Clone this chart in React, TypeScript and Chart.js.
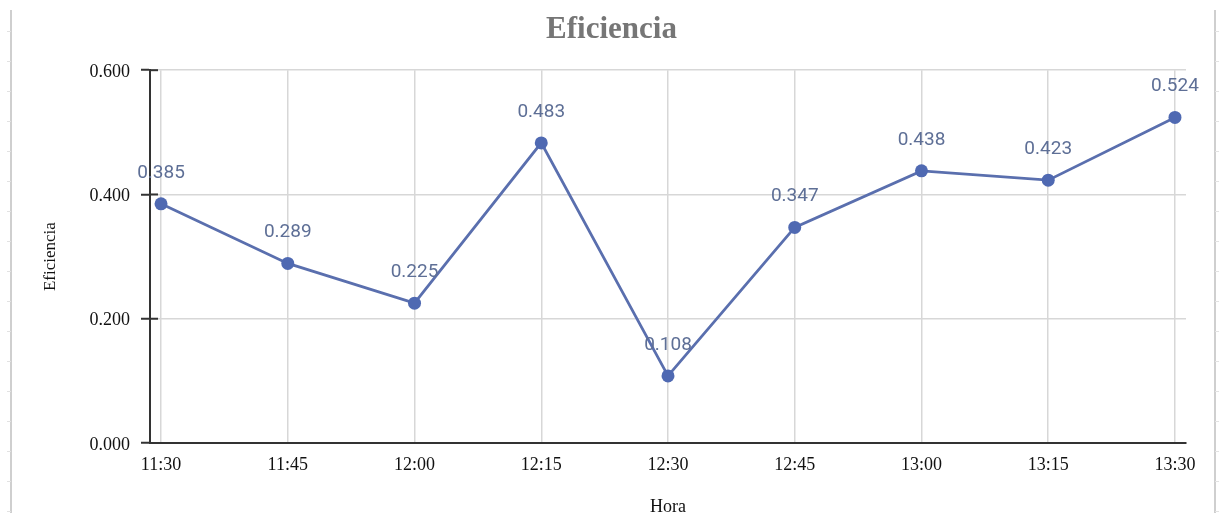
import { useEffect, useRef } from "react";
import { Chart, registerables } from "chart.js";

Chart.register(...registerables);

// Time of each reading (x axis)
const horas = ["11:30", "11:45", "12:00", "12:15", "12:30", "12:45", "13:00", "13:15", "13:30"];
// Efficiency per reading
const eficiencia = [0.385, 0.289, 0.225, 0.483, 0.108, 0.347, 0.438, 0.423, 0.524];
// Y axis ticks
const yTicks = [0, 0.2, 0.4, 0.6];

const SERIF = "'Liberation Serif', 'Times New Roman', serif";
const SANS = "Roboto, 'Noto Sans', sans-serif";
const AXIS = "#333333";
const GRID = "#d7d7d7";

// Value written above every point
const valueLabels = {
  id: "valueLabels",
  afterDatasetsDraw(chart: any) {
    const { ctx } = chart;
    const meta = chart.getDatasetMeta(0);
    ctx.save();
    ctx.font = `19px ${SANS}`;
    ctx.fillStyle = "#5e6f96";
    ctx.textAlign = "center";
    ctx.textBaseline = "middle";
    meta.data.forEach((pt: any, i: number) => {
      ctx.fillText(eficiencia[i].toFixed(3), pt.x, pt.y - 31);
    });
    ctx.restore();
  },
};

// Tick marks crossing the y axis line, and the thin page rulers at both sides
const decorations = {
  id: "decorations",
  afterDraw(chart: any) {
    const { ctx, scales, chartArea, width, height } = chart;
    const y = scales.y;
    ctx.save();
    ctx.strokeStyle = AXIS;
    ctx.lineWidth = 2;
    y.ticks.forEach((t: any) => {
      const py = y.getPixelForValue(t.value);
      ctx.beginPath();
      ctx.moveTo(chartArea.left, py);
      ctx.lineTo(chartArea.left + 8, py);
      ctx.stroke();
    });

    ctx.strokeStyle = "#cfcfcf";
    ctx.lineWidth = 2;
    const leftX = 11;
    const rightX = width - 8;
    ctx.beginPath();
    ctx.moveTo(leftX, 10);
    ctx.lineTo(leftX, height);
    ctx.moveTo(rightX, 10);
    ctx.lineTo(rightX, height);
    ctx.stroke();
    ctx.strokeStyle = "#e2e2e2";
    ctx.lineWidth = 1;
    for (let ty = 31; ty < height; ty += 30) {
      ctx.beginPath();
      ctx.moveTo(leftX - 4, ty + 0.5);
      ctx.lineTo(leftX, ty + 0.5);
      ctx.moveTo(rightX, ty + 0.5);
      ctx.lineTo(rightX + 4, ty + 0.5);
      ctx.stroke();
    }
    ctx.restore();
  },
};

export default function App() {
  const canvasRef = useRef<HTMLCanvasElement | null>(null);

  useEffect(() => {
    if (!canvasRef.current) return;
    const chart = new Chart(canvasRef.current, {
      type: "line",
      data: {
        datasets: [
          {
            label: "Eficiencia",
            data: eficiencia.map((v, i) => ({ x: i, y: v })),
            borderColor: "#5a6fae",
            borderWidth: 2.8,
            pointRadius: 6.5,
            pointBackgroundColor: "#4f69b2",
            pointBorderColor: "#4f69b2",
            pointBorderWidth: 0,
            tension: 0,
          },
        ],
      },
      options: {
        animation: false,
        responsive: true,
        maintainAspectRatio: false,
        layout: { padding: 0 },
        plugins: {
          legend: { display: false },
          tooltip: { enabled: false },
          title: {
            display: true,
            text: "Eficiencia",
            color: "#767676",
            font: { family: SERIF, size: 31, weight: "bold" },
            padding: { top: 11, bottom: 22 },
          },
        },
        scales: {
          x: {
            type: "linear",
            min: -0.087,
            max: 8.087,
            afterBuildTicks: (s: any) => {
              s.ticks = horas.map((_, i) => ({ value: i }));
            },
            afterFit: (s: any) => {
              s.height = 70;
            },
            ticks: {
              callback: (v: any) => horas[v] ?? "",
              color: "#111",
              font: { family: SERIF, size: 18 },
              padding: 11,
              maxRotation: 0,
              autoSkip: false,
            },
            grid: { color: GRID, lineWidth: 1.5, drawTicks: false },
            border: { color: AXIS, width: 2 },
            title: {
              display: true,
              text: "Hora",
              color: "#111",
              font: { family: SERIF, size: 18, lineHeight: 1 },
              padding: { top: 0, bottom: -3 },
            },
          },
          y: {
            min: 0,
            max: 0.6,
            afterBuildTicks: (s: any) => {
              s.ticks = yTicks.map((v) => ({ value: v }));
            },
            afterFit: (s: any) => {
              s.width = 150;
            },
            ticks: {
              callback: (v: any) => Number(v).toFixed(3),
              color: "#111",
              font: { family: SERIF, size: 18 },
              padding: 11,
              labelOffset: 2,
            },
            grid: { color: GRID, lineWidth: 1.5, tickLength: 9, tickColor: AXIS, tickWidth: 2 },
            border: { color: AXIS, width: 2 },
            title: {
              display: true,
              text: "Eficiencia",
              color: "#111",
              font: { family: SERIF, size: 17 },
              padding: { top: 40, bottom: 0 },
            },
          },
          // empty strip on the right, keeps the plot clear of the page edge
          yRight: {
            position: "right",
            display: true,
            afterFit: (s: any) => {
              s.width = 37;
            },
            ticks: { display: false },
            grid: { display: false, drawOnChartArea: false },
            border: { display: false },
          },
        },
      },
      plugins: [valueLabels, decorations],
    });
    return () => chart.destroy();
  }, []);

  return (
    <div style={{ position: "fixed", left: 0, top: 0, width: 1223, height: 513, background: "#fff" }}>
      <canvas ref={canvasRef} />
    </div>
  );
}
